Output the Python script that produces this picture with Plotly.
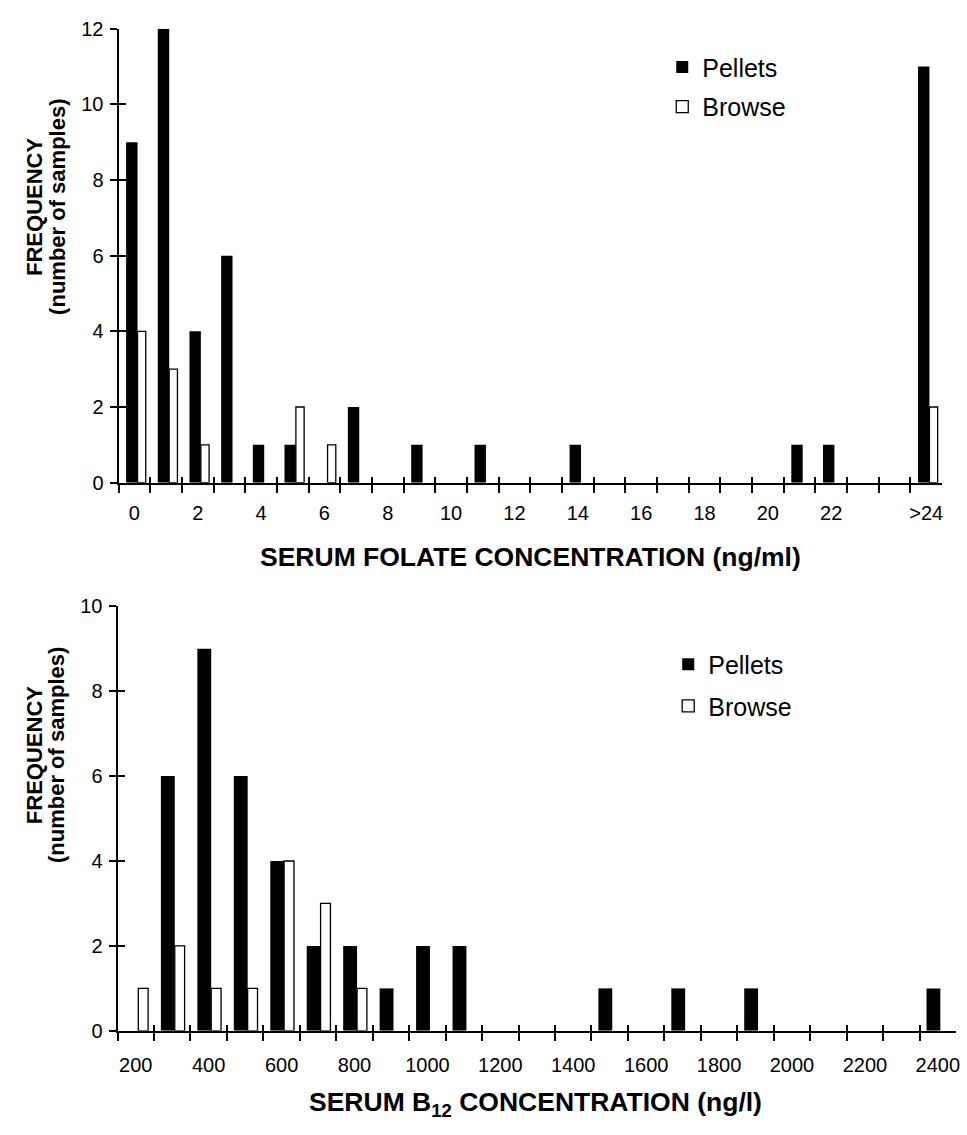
import plotly.graph_objects as go

# ---------------- data ----------------
folate_cats = [str(i) for i in range(25)] + [">24"]
folate_labels = [str(i) if i % 2 == 0 and i <= 22 else "" for i in range(25)] + [">24"]
folate_pellets = [9, 12, 4, 6, 1, 1, 0, 2, 0, 1, 0, 1, 0, 0, 1, 0, 0, 0, 0, 0, 0, 1, 1, 0, 0, 11]
folate_browse = [4, 3, 1, 0, 0, 2, 1, 0, 0, 0, 0, 0, 0, 0, 0, 0, 0, 0, 0, 0, 0, 0, 0, 0, 0, 2]

b12_cats = [str(v) for v in range(200, 2500, 100)]
b12_labels = [c if i % 2 == 0 else "" for i, c in enumerate(b12_cats)]
b12_pellets = [0, 6, 9, 6, 4, 2, 2, 1, 2, 2, 0, 0, 0, 1, 0, 1, 0, 1, 0, 0, 0, 0, 1]
b12_browse = [1, 2, 1, 1, 4, 3, 1, 0, 0, 0, 0, 0, 0, 0, 0, 0, 0, 0, 0, 0, 0, 0, 0]

FONT = "Liberation Sans, Arial, Helvetica, sans-serif"
W, H = 967, 1135


def outline(values, w):
    # no outline on empty bins so zero-height bars stay invisible
    return [w if v > 0 else 0 for v in values]


fig = go.Figure()

# top chart
fig.add_trace(go.Bar(x=folate_cats, y=folate_pellets, name="Pellets",
                     marker=dict(color="black", line=dict(color="black", width=0)),
                     offset=-0.26, width=0.36, xaxis="x", yaxis="y",
                     legend="legend", legendgroup="p1"))
fig.add_trace(go.Bar(x=folate_cats, y=folate_browse, name="Browse",
                     marker=dict(color="white", line=dict(color="black",
                                                          width=outline(folate_browse, 1.3))),
                     offset=0.10, width=0.26, xaxis="x", yaxis="y",
                     legend="legend", legendgroup="b1"))
# bottom chart
fig.add_trace(go.Bar(x=b12_cats, y=b12_pellets, name="Pellets",
                     marker=dict(color="black", line=dict(color="black", width=0)),
                     offset=-0.31, width=0.38, xaxis="x2", yaxis="y2",
                     legend="legend2", legendgroup="p2"))
fig.add_trace(go.Bar(x=b12_cats, y=b12_browse, name="Browse",
                     marker=dict(color="white", line=dict(color="black",
                                                          width=outline(b12_browse, 1.3))),
                     offset=0.07, width=0.27, xaxis="x2", yaxis="y2",
                     legend="legend2", legendgroup="b2"))

# placeholder traces (a single null point, nothing drawn) so the overlay axes that
# carry the inner half of the crossing tick marks are created and rendered
fig.add_trace(go.Scatter(x=[None], y=[None], mode="markers", xaxis="x3", yaxis="y3",
                         showlegend=False, hoverinfo="skip"))
fig.add_trace(go.Scatter(x=[None], y=[None], mode="markers", xaxis="x4", yaxis="y4",
                         showlegend=False, hoverinfo="skip"))

tickfont = dict(family=FONT, size=20, color="black")
dom_x1 = [119 / W, 946 / W]
dom_y1 = [1 - 481 / H, 1 - 18 / H]
dom_x2 = [118 / W, 960 / W]
dom_y2 = [1 - 1040 / H, 1 - 607 / H]

common_x = dict(type="category", tickson="boundaries", ticks="outside", ticklen=8,
                tickwidth=2, tickcolor="black", showline=True, linewidth=2,
                linecolor="black", showgrid=False, zeroline=False, tickfont=tickfont,
                tickangle=0, fixedrange=True)
common_y = dict(ticks="outside", ticklen=7, tickwidth=2, tickcolor="black",
                showline=True, linewidth=2, linecolor="black", showgrid=False,
                zeroline=False, tickfont=tickfont, dtick=2, tick0=0, ticklabelstandoff=2)
overlay = dict(ticks="inside", tickwidth=2, tickcolor="black", showline=False,
               showticklabels=False, showgrid=False, zeroline=False, fixedrange=True)

fig.update_layout(
    width=W, height=H, margin=dict(l=0, r=0, t=0, b=0),
    paper_bgcolor="white", plot_bgcolor="white",
    font=dict(family=FONT, color="black"),
    barmode="group",
    xaxis=dict(domain=dom_x1, anchor="y", categoryorder="array", categoryarray=folate_cats,
               tickvals=folate_cats, ticktext=folate_labels, ticklabelstandoff=11,
               range=[-0.5, len(folate_cats) - 0.5], **common_x),
    yaxis=dict(domain=dom_y1, anchor="x", range=[0, 12], **common_y),
    xaxis2=dict(domain=dom_x2, anchor="y2", categoryorder="array", categoryarray=b12_cats,
                tickvals=b12_cats, ticktext=b12_labels, ticklabelstandoff=15,
                range=[-0.5, len(b12_cats) - 0.5], **common_x),
    yaxis2=dict(domain=dom_y2, anchor="x2", range=[0, 10], **common_y),
    xaxis3=dict(overlaying="x", anchor="y3", side="bottom", type="linear",
                range=[-0.5, len(folate_cats) - 0.5], tick0=-0.5, dtick=1, ticklen=6, **overlay),
    yaxis3=dict(overlaying="y", anchor="x3", side="left", type="linear", range=[0, 12],
                tick0=0, dtick=2, ticklen=7, **overlay),
    xaxis4=dict(overlaying="x2", anchor="y4", side="bottom", type="linear",
                range=[-0.5, len(b12_cats) - 0.5], tick0=-0.5, dtick=1, ticklen=6, **overlay),
    yaxis4=dict(overlaying="y2", anchor="x4", side="left", type="linear", range=[0, 10],
                tick0=0, dtick=2, ticklen=7, **overlay),
    legend=dict(x=665 / W, y=1 - 34 / H, xanchor="left", yanchor="top",
                font=dict(family=FONT, size=25, color="black"), bgcolor="rgba(0,0,0,0)",
                tracegroupgap=4, itemwidth=30),
    legend2=dict(x=671 / W, y=1 - 643 / H, xanchor="left", yanchor="top",
                 font=dict(family=FONT, size=25, color="black"), bgcolor="rgba(0,0,0,0)",
                 tracegroupgap=6, itemwidth=30),
    showlegend=True,
)

bold = dict(family=FONT, color="black", weight="bold")
ann = [
    dict(text="FREQUENCY", x=34 / W, y=1 - 200 / H, textangle=-90, font=dict(size=22, **bold)),
    dict(text="(number of samples)", x=57 / W, y=1 - 200 / H, textangle=-90, font=dict(size=22, **bold)),
    dict(text="FREQUENCY", x=34 / W, y=1 - 759 / H, textangle=-90, font=dict(size=22, **bold)),
    dict(text="(number of samples)", x=57 / W, y=1 - 759 / H, textangle=-90, font=dict(size=22, **bold)),
    dict(text="SERUM FOLATE CONCENTRATION (ng/ml)", x=533 / W, y=1 - 557 / H, font=dict(size=26.5, **bold)),
    dict(text="SERUM B<sub>12</sub> CONCENTRATION (ng/l)", x=538 / W, y=1 - 1115 / H, font=dict(size=26.5, **bold)),
]
for a in ann:
    a.update(xref="paper", yref="paper", showarrow=False, xanchor="center", yanchor="middle")
fig.update_layout(annotations=ann)

fig.write_html("out.html")
